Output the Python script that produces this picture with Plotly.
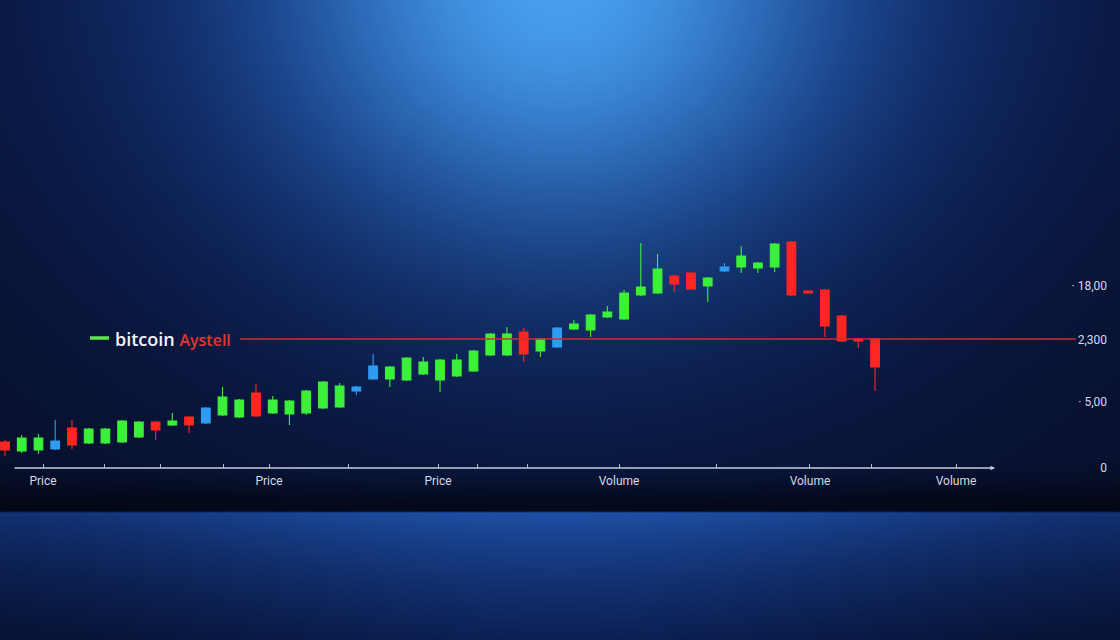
import base64
import struct
import zlib

import numpy as np
import plotly.graph_objects as go

# ---------------- data ----------------
open_ = [260, 170, 180, 190, 400, 250, 250, 260, 310, 460, 430, 510, 450, 530, 510, 750, 550, 540, 550, 600,
         610, 770, 890, 890, 880, 940, 880, 920, 970, 1130, 1130, 1360, 1170, 1210, 1390, 1380, 1510, 1490, 1730, 1750,
         1920, 1950, 1820, 1970, 2010, 2000, 2010, 2260, 1770, 1780, 1520, 1290, 1290]
high = [280, 330, 340, 480, 480, 400, 400, 480, 470, 470, 550, 520, 610, 810, 690, 840, 720, 680, 780, 870,
        850, 820, 1140, 1020, 1110, 1110, 1090, 1140, 1180, 1350, 1410, 1400, 1300, 1410, 1480, 1540, 1620, 1780, 2250, 2140,
        1930, 1960, 1910, 2050, 2220, 2060, 2250, 2270, 1770, 1790, 1530, 1300, 1300]
low = [120, 150, 140, 180, 190, 240, 240, 250, 300, 280, 420, 350, 440, 520, 500, 510, 540, 430, 530, 590,
       600, 730, 880, 810, 870, 930, 760, 910, 960, 1120, 1120, 1060, 1110, 1200, 1380, 1310, 1500, 1480, 1720, 1740,
       1760, 1780, 1660, 1960, 1950, 1950, 1960, 1720, 1740, 1310, 1260, 1200, 770]
close = [180, 300, 300, 270, 230, 390, 390, 470, 460, 380, 470, 430, 600, 710, 680, 520, 680, 670, 770, 860,
         820, 810, 1020, 1010, 1100, 1060, 1080, 1080, 1170, 1340, 1340, 1140, 1290, 1400, 1440, 1530, 1560, 1750, 1810, 1990,
         1840, 1790, 1900, 2010, 2120, 2050, 2240, 1730, 1750, 1420, 1270, 1270, 1010]
signal = ["down", "up", "up", "neutral", "down", "up", "up", "up", "up", "down",
          "up", "down", "neutral", "up", "up", "down", "up", "up", "up", "up",
          "up", "neutral", "neutral", "up", "up", "up", "up", "up", "up", "up",
          "up", "down", "up", "neutral", "up", "up", "up", "up", "up", "up",
          "down", "down", "up", "neutral", "up", "up", "up", "down", "down", "down",
          "down", "down", "down"]
session = list(range(len(open_)))

level = 1290                       # red reference line
legend_name = "bitcoin"
legend_name2 = "Aystell"

x_tick_vals = [2.27, 5.92, 9.32, 13.03, 15.78, 20.5, 25.88, 28.21, 31.2, 36.7, 42.5, 48.11, 51.76, 56.84]
x_tick_text = ["Price", "", "", "", "Price", "", "Price", "", "", "Volume", "", "Volume", "", "Volume"]
y_tick_vals = [1820, 1280, 660, 0]
y_tick_text = ["· 18,00", "2,300", "· 5,00", "0"]

# ---------------- background picture ----------------
W, H = 1120, 640


def background(w=560, h=320):
    xs = (np.arange(w) + 0.5) * W / w
    ys = (np.arange(h) + 0.5) * H / h
    X, Y = np.meshgrid(xs, ys)
    dark = np.array([7, 13, 38], float)
    mid = np.array([18, 55, 140], float)
    bright = np.array([72, 160, 238], float)
    g1 = np.exp(-((X - 560) / 520) ** 2 - ((Y + 40) / 420) ** 2)[..., None]
    g2 = np.exp(-((X - 560) / 250) ** 2 - ((Y + 20) / 230) ** 2)[..., None]
    col = dark * (1 - g1) + mid * g1
    col = col * (1 - g2) + bright * g2
    s = np.clip((Y - 462) / 48, 0, 1)[..., None]
    col = col * (1 - 0.5 * s * s * (3 - 2 * s))
    # floor
    hz = np.exp(-((X - 560) / 430) ** 2)[..., None]
    t = np.clip((Y - 512) / 128, 0, 1)[..., None] ** 0.7
    top_c = np.array([16, 44, 108], float) * (1 - hz) + np.array([32, 84, 172], float) * hz
    bot_c = np.array([6, 15, 44], float) * (1 - hz) + np.array([12, 32, 84], float) * hz
    floor = top_c * (1 - t) + bot_c * t
    col = np.where((Y >= 512)[..., None], floor, col)
    return np.clip(col, 0, 255).astype(np.uint8)


def png_uri(rgb):
    h, w, _ = rgb.shape
    raw = b"".join(b"\x00" + rgb[i].tobytes() for i in range(h))

    def chunk(tag, data):
        c = struct.pack(">I", len(data)) + tag + data
        return c + struct.pack(">I", zlib.crc32(tag + data) & 0xFFFFFFFF)

    png = (b"\x89PNG\r\n\x1a\n"
           + chunk(b"IHDR", struct.pack(">IIBBBBB", w, h, 8, 2, 0, 0, 0))
           + chunk(b"IDAT", zlib.compress(raw, 9))
           + chunk(b"IEND", b""))
    return "data:image/png;base64," + base64.b64encode(png).decode()


# ---------------- figure ----------------
colors = {"up": "#3cf03a", "down": "#ff2622", "neutral": "#2e9cf2"}

fig = go.Figure()
for kind in ["up", "down", "neutral"]:
    idx = [i for i, s in enumerate(signal) if s == kind]
    c = colors[kind]
    fig.add_trace(go.Candlestick(
        x=[session[i] for i in idx],
        open=[open_[i] for i in idx],
        high=[high[i] for i in idx],
        low=[low[i] for i in idx],
        close=[close[i] for i in idx],
        increasing=dict(line=dict(color=c, width=1.1), fillcolor=c),
        decreasing=dict(line=dict(color=c, width=1.1), fillcolor=c),
        whiskerwidth=0,
        showlegend=False,
        hoverinfo="skip",
    ))

PLOT_BOTTOM = 500
fig.update_layout(
    width=W, height=H,
    margin=dict(l=0, r=0, t=0, b=H - PLOT_BOTTOM),
    paper_bgcolor="#0a1430",
    plot_bgcolor="rgba(0,0,0,0)",
    boxgap=0.26,
    showlegend=False,
    hovermode=False,
    images=[dict(source=png_uri(background()), xref="paper", yref="paper",
                 x=0, y=1, sizex=1, sizey=H / PLOT_BOTTOM,
                 xanchor="left", yanchor="top", sizing="stretch", layer="below")],
    xaxis=dict(
        range=[-0.3, 66.64], rangeslider=dict(visible=False),
        showgrid=False, zeroline=False, showline=False,
        anchor="free", position=32 / PLOT_BOTTOM,
        tickmode="array", tickvals=x_tick_vals, ticktext=x_tick_text,
        ticks="inside", ticklen=4, tickwidth=1, tickcolor="#aeb8cc",
        ticklabelstandoff=4,
        tickfont=dict(family="Liberation Sans Narrow, Roboto, sans-serif", size=12, color="#d4dae6"),
        fixedrange=True,
    ),
    yaxis=dict(
        range=[-320, 4680], side="right", ticklabelposition="inside",
        showgrid=False, zeroline=False, showline=False, ticks="",
        tickmode="array", tickvals=y_tick_vals, ticktext=y_tick_text,
        ticklabelstandoff=10,
        tickfont=dict(family="Liberation Sans Narrow, Roboto, sans-serif", size=12, color="#d4dae6"),
        fixedrange=True,
    ),
)

# red reference line and legend-like label
fig.add_shape(type="line", xref="paper", yref="y", x0=240 / W, x1=1076 / W, y0=level, y1=level,
              line=dict(color="#c8302e", width=1.3))
fig.add_shape(type="line", xref="paper", yref="y", x0=90 / W, x1=109 / W, y0=level + 10, y1=level + 10,
              line=dict(color="#5ee44a", width=3.5))
fig.add_annotation(
    xref="paper", yref="y", x=113 / W, y=level, xanchor="left", yanchor="middle", showarrow=False,
    text=f"{legend_name} <span style='color:#e4352c;font-size:16px'>{legend_name2}</span>",
    font=dict(family="Open Sans, sans-serif", size=18, color="#f2f4f8", weight=600),
)
# bottom axis line with arrow
fig.add_annotation(
    xref="paper", yref="y", x=995 / W, y=0, ax=-982, ay=0, axref="pixel", ayref="pixel",
    text="", showarrow=True, arrowhead=2, arrowsize=0.7, arrowwidth=1.3, arrowcolor="#c4ccdc",
)

fig.write_html(
    "out.html",
    config={"displayModeBar": False, "staticPlot": True},
    post_script="document.body.style.margin='0';document.body.style.background='#0a1430';",
)
